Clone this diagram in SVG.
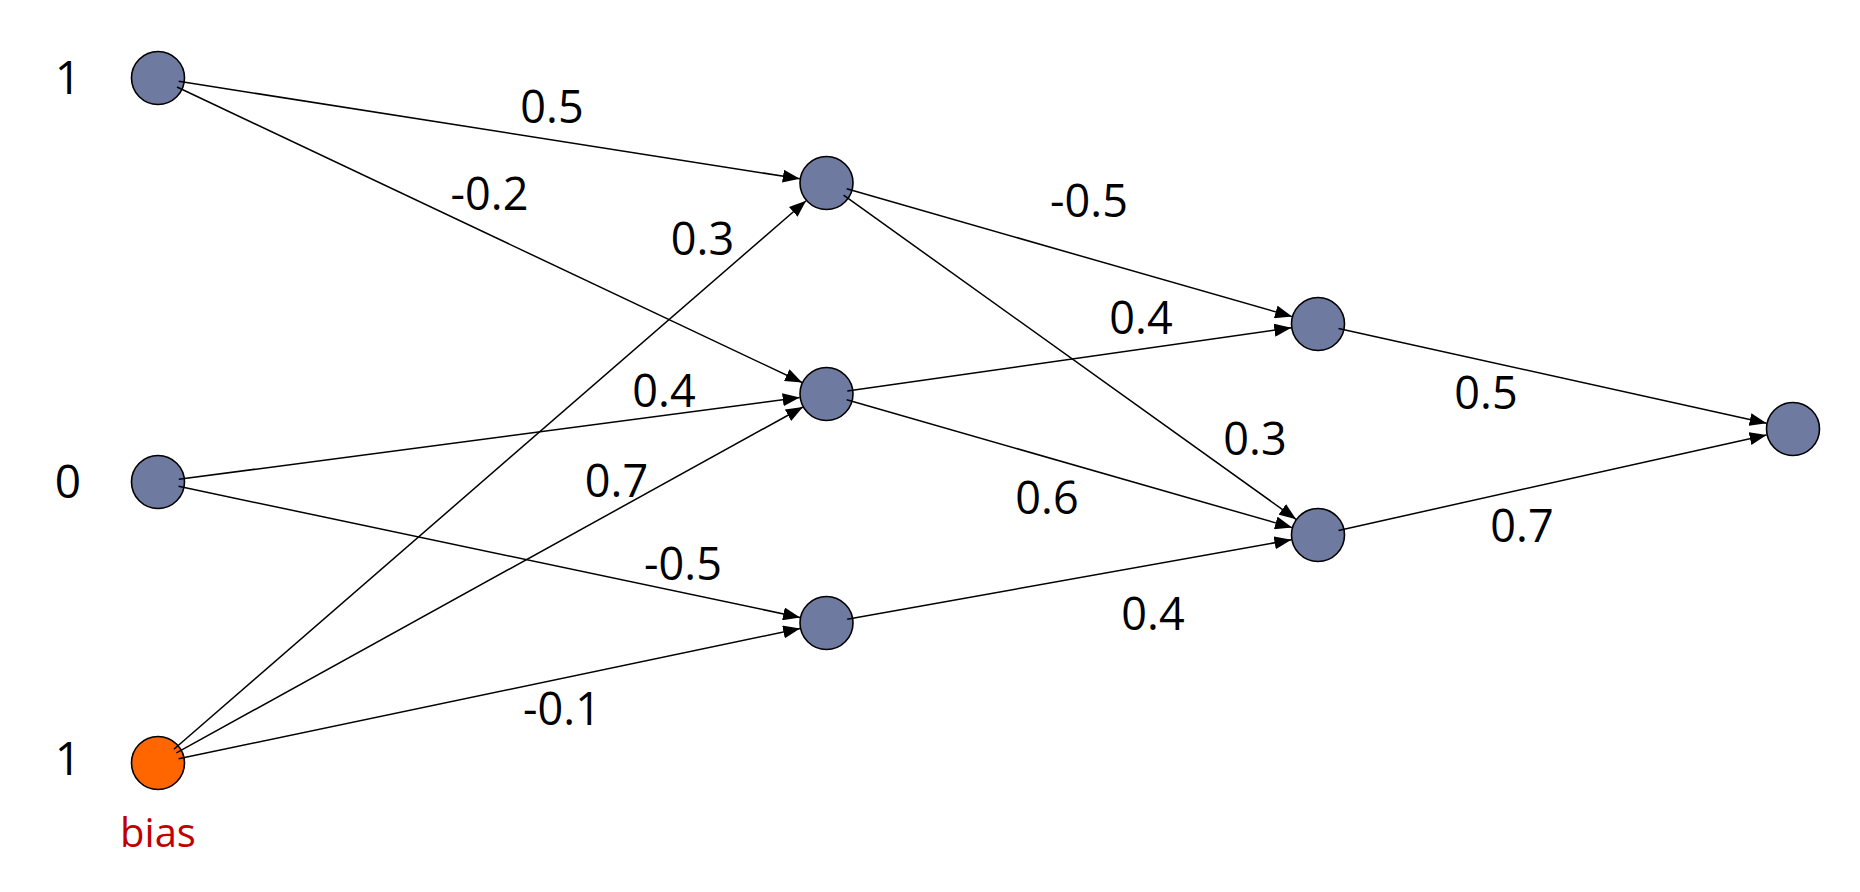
<svg xmlns="http://www.w3.org/2000/svg" width="1860" height="892" viewBox="0 0 1860 892">
<style>
.node{fill:#6F7AA0;stroke:#000;stroke-width:1.6}
.bias{fill:#FF6600;stroke:#000;stroke-width:1.6}
.edge{stroke:#000;stroke-width:1.5;fill:none;marker-end:url(#arr)}
.w{font-family:"Open Sans","Noto Sans",sans-serif;font-size:45px;fill:#000;text-anchor:middle}
.in{font-family:"Open Sans","Noto Sans",sans-serif;font-size:46px;fill:#000;text-anchor:middle}
.bl{font-family:"Open Sans","Noto Sans",sans-serif;font-size:40px;fill:#C00000;text-anchor:middle}
</style>
<defs>
<marker id="arr" markerUnits="userSpaceOnUse" markerWidth="17" markerHeight="13" viewBox="0 0 17 13" refX="17" refY="6.5" orient="auto">
<path d="M0,0 L17,6.5 L0,13 z" fill="#000"/>
</marker>
</defs>
<rect width="1860" height="892" fill="#fff"/>
<g id="input1"><circle class="node" cx="158" cy="78" r="26.5"/><text class="in" x="68" y="94">1</text></g>
<g id="input0"><circle class="node" cx="158" cy="482" r="26.5"/><text class="in" x="68" y="498">0</text></g>
<g id="biasnode"><circle class="bias" cx="158" cy="763" r="26.5"/><text class="in" x="68" y="775">1</text><text class="bl" x="158" y="847">bias</text></g>
<g id="h1a"><circle class="node" cx="826.5" cy="183" r="26.5"/></g>
<g id="h1b"><circle class="node" cx="826.5" cy="394" r="26.5"/></g>
<g id="h1c"><circle class="node" cx="826.5" cy="623" r="26.5"/></g>
<g id="h2a"><circle class="node" cx="1318" cy="324" r="26.5"/></g>
<g id="h2b"><circle class="node" cx="1318" cy="535" r="26.5"/></g>
<g id="out"><circle class="node" cx="1793" cy="429" r="26.5"/></g>
<g id="connectors">
<line class="edge" x1="178.7" y1="81.3" x2="799.8" y2="178.8"/>
<line class="edge" x1="177" y1="87" x2="802.1" y2="382.5"/>
<line class="edge" x1="178.8" y1="479.3" x2="799.7" y2="397.5"/>
<line class="edge" x1="178.5" y1="486.3" x2="800.1" y2="617.4"/>
<line class="edge" x1="173.9" y1="749.2" x2="806.1" y2="200.7"/>
<line class="edge" x1="176.4" y1="752.9" x2="802.9" y2="407"/>
<line class="edge" x1="178.6" y1="758.7" x2="800.1" y2="628.5"/>
<line class="edge" x1="846.7" y1="188.8" x2="1292.1" y2="316.6"/>
<line class="edge" x1="843.6" y1="195.2" x2="1296.1" y2="519.3"/>
<line class="edge" x1="847.3" y1="391" x2="1291.3" y2="327.8"/>
<line class="edge" x1="846.7" y1="399.8" x2="1292.1" y2="527.6"/>
<line class="edge" x1="847.2" y1="619.3" x2="1291.4" y2="539.8"/>
<line class="edge" x1="1338.5" y1="328.5" x2="1766.6" y2="423.2"/>
<line class="edge" x1="1338.5" y1="530.4" x2="1766.6" y2="434.9"/>
</g>
<g id="labels">
<text class="w" x="552" y="123">0.5</text>
<text class="w" x="489.5" y="210">-0.2</text>
<text class="w" x="702.5" y="255">0.3</text>
<text class="w" x="664" y="407">0.4</text>
<text class="w" x="616.5" y="497">0.7</text>
<text class="w" x="683" y="580">-0.5</text>
<text class="w" x="562" y="725">-0.1</text>
<text class="w" x="1089" y="217">-0.5</text>
<text class="w" x="1141" y="334">0.4</text>
<text class="w" x="1255" y="455">0.3</text>
<text class="w" x="1047" y="514">0.6</text>
<text class="w" x="1153" y="630">0.4</text>
<text class="w" x="1486" y="409">0.5</text>
<text class="w" x="1522" y="542">0.7</text>
</g>
</svg>
